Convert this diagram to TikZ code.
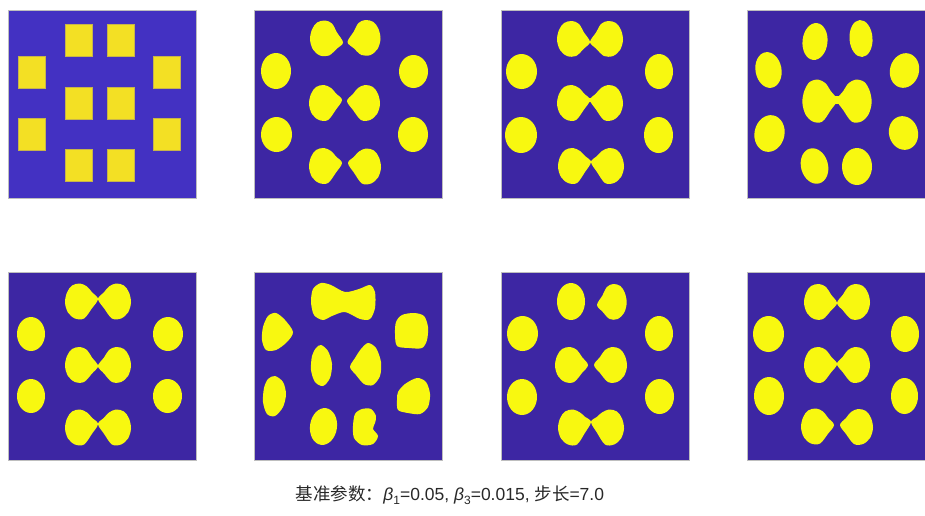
\documentclass[tikz,border=0pt]{standalone}
\usepackage{fontspec}
\setmainfont{Liberation Sans}
\newfontfamily\cjkfont{Noto Sans CJK SC}
\definecolor{fieldblue}{RGB}{61,38,163}
\definecolor{startblue}{RGB}{67,49,194}
\definecolor{phaseyellow}{RGB}{248,248,16}
\definecolor{startyellow}{RGB}{243,224,36}
\definecolor{frameedge}{RGB}{190,190,190}
\definecolor{captiongray}{RGB}{40,40,40}
% egg: [tilt]{x}{y}{rx}{ry}
\newcommand\eggat[5][0]{\fill[blob,rotate around={#1:(#2,#3)}] (#2,#3) ellipse [x radius=#4, y radius=#5];}
% drop pointing right: [opts]{tip x}{tip y}{lobe offset}
\newcommand\dropat[4][]{\fill[blob,shift={(#2,#3)},#1] plot[smooth cycle,tension=0.55] coordinates
  {(0,0) (-6,{#4/2-8}) (-11,{#4-15}) (-18,{#4-18}) (-26,{#4-16}) (-31,{#4-9}) (-33,{#4+1}) (-30,{#4+11}) (-23,{#4+17}) (-14,{#4+17}) (-6,{#4/2+8})};}
% two drops tip to tip: [opts]{x}{y}{neck}{lobe offset}
\newcommand\tieat[5][]{\dropat[#1]{#2}{#3}{#5}\dropat[xscale=-1,#1]{#2}{#3}{#5}%
  \fill[blob] (#2,#3) ellipse [x radius=6, y radius=#4];}
\newcommand\lowidx[1]{\raisebox{-0.5ex}{\fontsize{12}{12}\selectfont #1}}
\begin{document}
\begin{tikzpicture}[x=1pt,y=-1pt,
  blob/.style={fill=phaseyellow},
  panel/.style={fill=fieldblue,draw=frameedge,line width=0.8pt},
  caption/.style={text=captiongray,font=\fontsize{17.5}{17.5}\selectfont,anchor=base,inner sep=0pt}]
  \useasboundingbox (0,0) rectangle (925,515);
  \clip (0,0) rectangle (925,515);

  % Start layout.
  \begin{scope}[shift={(8,10)}]
    \draw[panel,fill=startblue] (0,0) rectangle (188,188);
    \foreach \x/\y in {57/14,99/14,10/46,145/46,57/77,99/77,10/108,145/108,57/139,99/139}
      \fill[startyellow,draw=startyellow!75!startblue,line width=0.4pt] (\x,\y) rectangle ++(27,32);
  \end{scope}

  % Top row.
  \begin{scope}[shift={(254,10)}]
    \draw[panel] (0,0) rectangle (188,188);
    \dropat{89}{32.5}{-4} \dropat[xscale=-1]{93.5}{32}{-4}
    \eggat{22}{61}{15}{18} \eggat{159.5}{61.5}{14.5}{16.5}
    \dropat{88}{90}{3} \dropat[xscale=-1]{93}{91}{2}
    \eggat{22.5}{124.5}{15.5}{17.5} \eggat{159}{124.5}{15}{17.5}
    \dropat{88}{153}{3} \dropat[xscale=-1]{94}{153}{3.5}
  \end{scope}
  \begin{scope}[shift={(501,10)}]
    \draw[panel] (0,0) rectangle (188,188);
    \tieat{89}{32}{1}{-3}
    \eggat{20.5}{61.5}{15.5}{17.5} \eggat{158}{61.5}{14}{17.5}
    \tieat{89}{90}{2}{3}
    \eggat{20}{125}{16}{18} \eggat{157.5}{125}{14.5}{18}
    \tieat{90}{152}{1}{4}
  \end{scope}
  \begin{scope}[shift={(747,10)}]
    \draw[panel] (0,0) rectangle (188,188);
    \eggat[-6]{68}{31.5}{12.5}{18.5} \eggat[4]{114}{28.5}{11.5}{18.5}
    \eggat[10]{21.5}{60}{13}{18} \eggat[-15]{157.5}{60.5}{14.5}{17.5}
    \tieat[xscale=1.05,yscale=1.2]{90}{90}{4}{1}
    \eggat[-12]{22.5}{123.5}{15}{18.5} \eggat[15]{156.5}{123}{14.5}{17}
    \eggat[15]{67.5}{156}{13.5}{18} \eggat{110}{156.5}{15}{18.5}
  \end{scope}

  % Bottom row.
  \begin{scope}[shift={(8,272)}]
    \draw[panel] (0,0) rectangle (188,188);
    \tieat{90}{27}{1}{2.5}
    \eggat{23}{62}{14}{17} \eggat{160}{62}{15}{17}
    \tieat{90}{94}{1.5}{-1}
    \eggat{23}{124}{14}{17} \eggat{159.5}{124}{14.5}{17}
    \tieat{90}{152}{1}{3.5}
  \end{scope}
  \begin{scope}[shift={(254,272)}]
    \draw[panel] (0,0) rectangle (188,188);
    \fill[blob] plot[smooth cycle] coordinates {(57,30) (59,17) (67,11) (77,13) (91,20) (105,17) (116,13) (121,20) (121,36) (116,47) (106,47) (91,40) (78,44) (69,48) (60,43)};
    \fill[blob] plot[smooth cycle] coordinates {(9,55) (14,44) (22,41) (31,48) (39,60) (33,70) (22,78) (12,78) (8,68)};
    \fill[blob] plot[smooth cycle] coordinates {(142,50) (148,43) (160,41) (170,44) (174,55) (173,68) (168,76) (155,76) (143,74) (141,62)};
    \fill[blob] plot[smooth cycle] coordinates {(67,73) (74,79) (78,92) (76,106) (69,114) (61,110) (57,98) (58,84) (62,76)};
    \fill[blob] plot[smooth cycle] coordinates {(114,71) (122,76) (127,90) (126,104) (119,113) (110,112) (102,103) (96,95) (101,86) (107,77)};
    \fill[blob] plot[smooth cycle] coordinates {(21,104) (29,110) (32,122) (29,135) (21,144) (13,142) (9,130) (10,116) (14,107)};
    \fill[blob] plot[smooth cycle] coordinates {(144,120) (151,112) (163,106) (172,110) (176,122) (174,135) (166,142) (154,141) (144,138) (143,128)};
    \eggat[-8]{69.5}{154.5}{13.5}{18.5}
    \fill[blob] plot[smooth cycle] coordinates {(101,142) (108,137) (117,137) (122,144) (121,151) (119,157) (124,164) (119,172) (108,173) (100,166) (99,154)};
  \end{scope}
  \begin{scope}[shift={(501,272)}]
    \draw[panel] (0,0) rectangle (188,188);
    \eggat{70}{29.5}{14}{18.5} \dropat[xscale=-0.9]{96}{33}{-3}
    \eggat{21.5}{61.5}{15.5}{17.5} \eggat{158}{61.5}{14}{17.5}
    \dropat{87}{93}{0} \dropat[xscale=-1]{93}{93}{0}
    \eggat{21}{125}{15}{18} \eggat{158.5}{124.5}{14.5}{17.5}
    \tieat{90}{150}{0.5}{5.5}
  \end{scope}
  \begin{scope}[shift={(747,272)}]
    \draw[panel] (0,0) rectangle (188,188);
    \tieat{90}{31}{0.5}{-1}
    \eggat{21.5}{62}{15.5}{18} \eggat{158}{62}{14}{18}
    \tieat{90}{92}{1.5}{1}
    \eggat{22}{124}{15}{19} \eggat{157.5}{124}{13.5}{18}
    \dropat{87}{153}{1.5} \dropat[xscale=-1]{93}{153}{2}
  \end{scope}

  \node[caption] (caption) at (450,500)
    {{\cjkfont 基准参数：}\textit{β}\lowidx{1}=0.05, \textit{β}\lowidx{3}=0.015, {\cjkfont 步长}=7.0};
\end{tikzpicture}
\end{document}
